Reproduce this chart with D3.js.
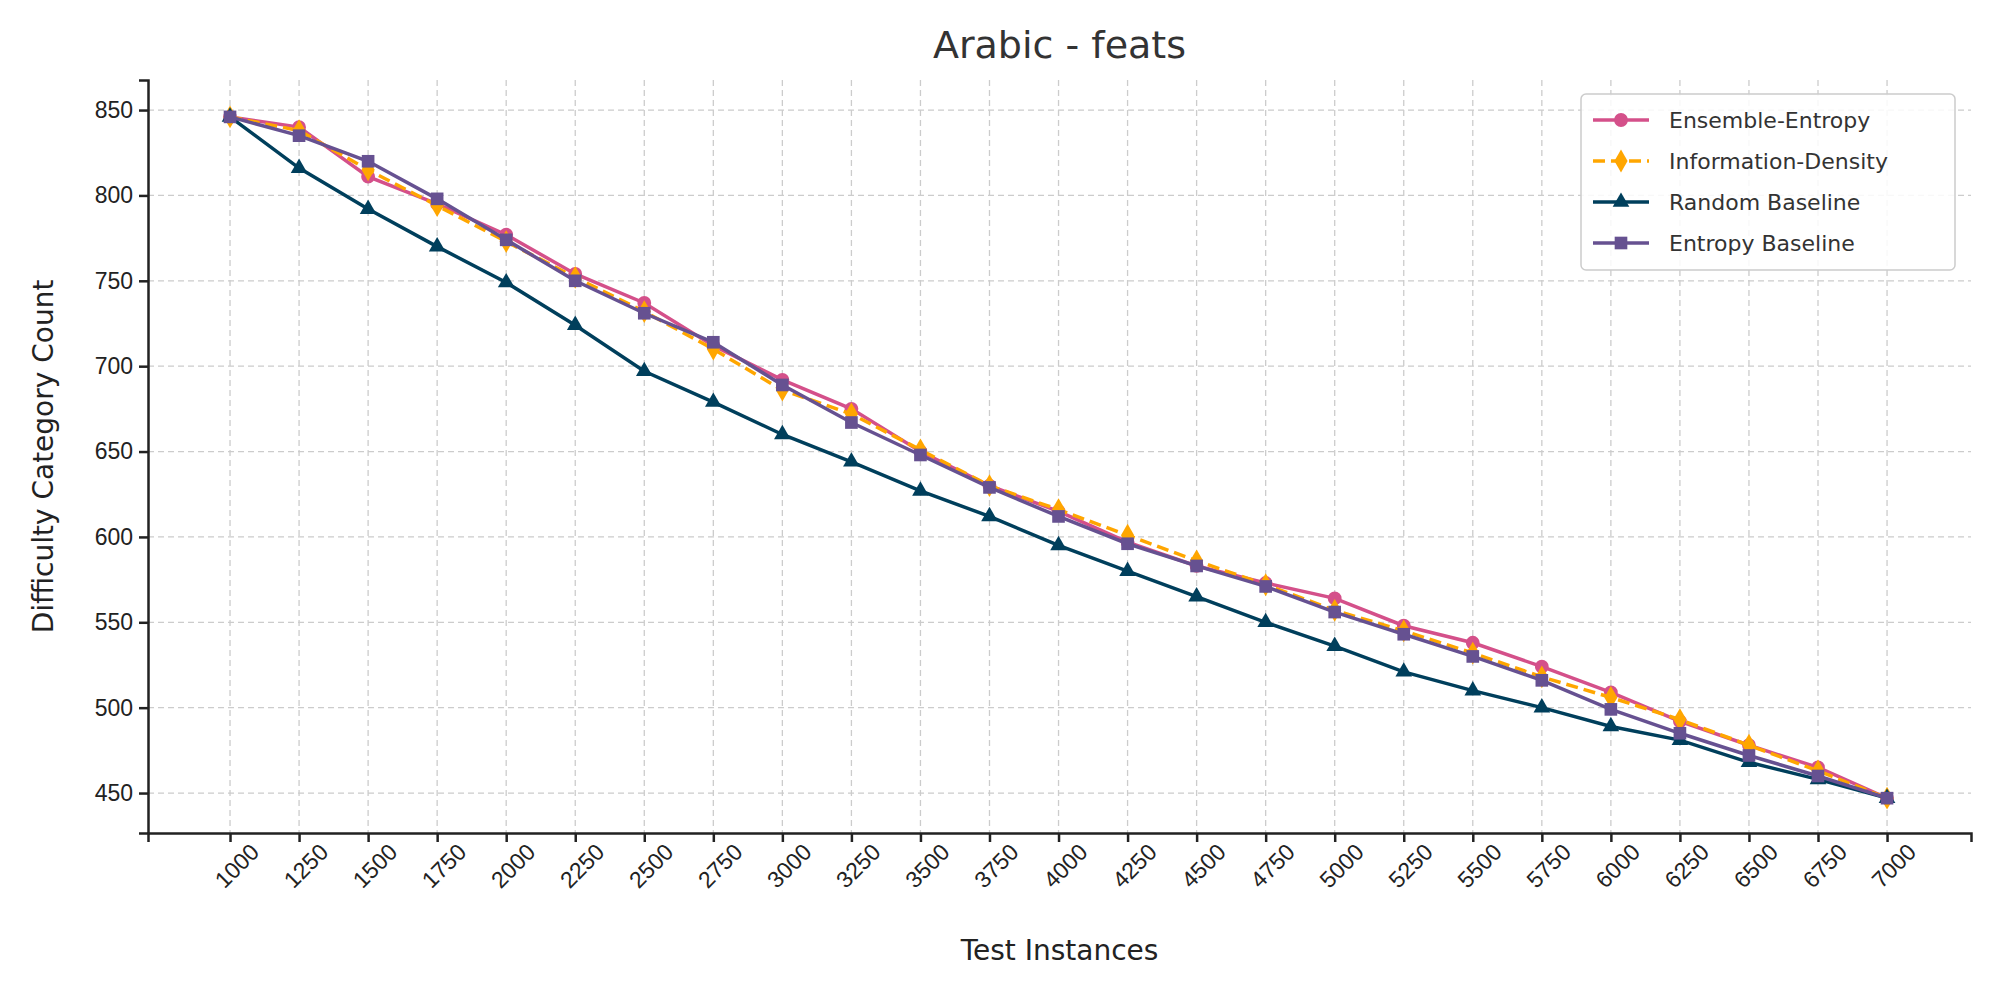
<!DOCTYPE html>
<html><head><meta charset="utf-8">
<script src="https://cdn.jsdelivr.net/npm/d3@7"></script>
<style>body{margin:0;background:#fff;font-family:"DejaVu Sans",sans-serif}</style>
</head><body><svg id="c" width="2000" height="1000"></svg>
<script>
var xs = [1000,1250,1500,1750,2000,2250,2500,2750,3000,3250,3500,3750,4000,4250,4500,4750,5000,5250,5500,5750,6000,6250,6500,6750,7000]
var ensemble = [846,840,811,795,777,754,737,712,692,675,650,630,615,597,583,573,564,548,538,524,509,492,478,465,447]
var infoDensity = [846,838,815,794,773,752,732,710,686,672,651,630,616,601,586,572,557,545,532,518,506,493,478,463,447]
var randomBase = [846,816,792,770,749,724,697,679,660,644,627,612,595,580,565,550,536,521,510,500,489,481,468,458,447]
var entropyBase = [846,835,820,798,774,750,731,714,689,667,648,629,612,596,583,571,556,543,530,516,499,485,472,460,447]
var yTicks = [450,500,550,600,650,700,750,800,850]

var series = [
  {name:'Ensemble-Entropy', vals:ensemble, color:'#d4508a', sym:d3.symbolCircle, dash:null, size:150},
  {name:'Information-Density', vals:infoDensity, color:'#ffa600', sym:d3.symbolDiamond, dash:'12,6', size:150},
  {name:'Random Baseline', vals:randomBase, color:'#003f5c', sym:d3.symbolTriangle, dash:null, size:120},
  {name:'Entropy Baseline', vals:entropyBase, color:'#665191', sym:d3.symbolSquare, dash:null, size:160}
]

var L = 148, R = 1971, T = 80, B = 833
var x = d3.scaleLinear().domain([703,7304]).range([L,R])
var y = d3.scaleLinear().domain([426.6,867.6]).range([B,T])
var svg = d3.select('#c')

// grid
svg.append('g').selectAll('line').data(xs).enter().append('line')
  .attr('x1',d=>x(d)).attr('x2',d=>x(d)).attr('y1',T).attr('y2',B)
  .style('stroke','#cccccc').style('stroke-dasharray','6,4').style('stroke-width',1.3)
svg.append('g').selectAll('line').data(yTicks).enter().append('line')
  .attr('x1',L).attr('x2',R).attr('y1',d=>y(d)).attr('y2',d=>y(d))
  .style('stroke','#cccccc').style('stroke-dasharray','6,4').style('stroke-width',1.3)

var xAxis = svg.append('g').attr('transform','translate(0,'+B+')')
  .call(d3.axisBottom(x).tickValues(xs).tickFormat(d3.format('d')).tickSizeOuter(0).tickSize(9).tickPadding(6))
xAxis.selectAll('text').style('font-size','23px').style('fill','#222')
  .attr('text-anchor','end').attr('dx','0.3em').attr('dy','0.9em').attr('transform','rotate(-45)')
var yAxis = svg.append('g').attr('transform','translate('+L+',0)')
  .call(d3.axisLeft(y).tickValues(yTicks).tickSizeOuter(0).tickSize(9).tickPadding(6))
yAxis.selectAll('text').style('font-size','23px').style('fill','#222')
svg.selectAll('.domain').style('stroke','#222').style('stroke-width',2.5)
svg.selectAll('.tick line').style('stroke','#222').style('stroke-width',2.5)

var line = d3.line().x((d,i)=>x(xs[i])).y(d=>y(d))
series.forEach(function(s){
  svg.append('path').attr('d',line(s.vals)).style('fill','none')
    .style('stroke',s.color).style('stroke-width',3.5).style('stroke-dasharray',s.dash)
  svg.append('g').selectAll('path').data(s.vals).enter().append('path')
    .attr('d',d3.symbol().type(s.sym).size(s.size))
    .attr('transform',(d,i)=>'translate('+x(xs[i])+','+y(d)+')')
    .style('fill',s.color)
})

svg.append('text').attr('x',(L+R)/2).attr('y',58).attr('text-anchor','middle')
  .style('font-size','38px').style('fill','#333').text('Arabic - feats')
svg.append('text').attr('x',(L+R)/2).attr('y',960).attr('text-anchor','middle')
  .style('font-size','28px').style('fill','#222').text('Test Instances')
svg.append('text').attr('transform','translate(53,'+((T+B)/2)+') rotate(-90)').attr('text-anchor','middle')
  .style('font-size','28px').style('fill','#222').text('Difficulty Category Count')

// legend
var lg = svg.append('g').attr('transform','translate(1581,94)')
lg.append('rect').attr('width',374).attr('height',176).attr('rx',5)
  .style('fill','#fff').style('fill-opacity',0.85).style('stroke','#ccc').style('stroke-width',1.5)
series.forEach(function(s,i){
  var g = lg.append('g').attr('transform','translate(0,'+(26+i*41)+')')
  g.append('line').attr('x1',12).attr('x2',68).style('stroke',s.color).style('stroke-width',3.5).style('stroke-dasharray',s.dash)
  g.append('path').attr('d',d3.symbol().type(s.sym).size(s.size)).attr('transform','translate(40,0)').style('fill',s.color)
  g.append('text').attr('x',88).attr('dy','0.35em').style('font-size','22px').style('fill','#333').text(s.name)
})
</script></body></html>
